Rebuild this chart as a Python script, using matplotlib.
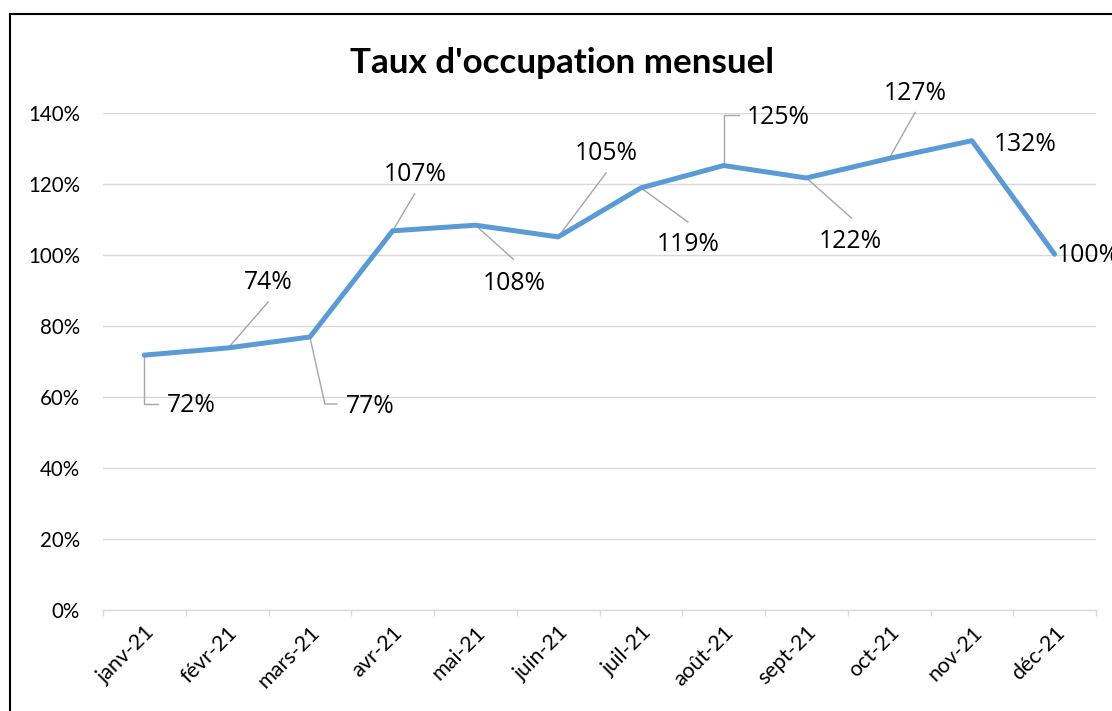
import matplotlib
matplotlib.use("Agg")
import matplotlib.pyplot as plt
import matplotlib.transforms as mtransforms
from matplotlib.lines import Line2D

# Donnees
mois = ["janv-21", "févr-21", "mars-21", "avr-21", "mai-21", "juin-21",
        "juil-21", "août-21", "sept-21", "oct-21", "nov-21", "déc-21"]
taux = [0.718, 0.738, 0.769, 1.068, 1.084, 1.051,
        1.189, 1.252, 1.217, 1.272, 1.322, 1.002]
etiquettes = ["72%", "74%", "77%", "107%", "108%", "105%",
              "119%", "125%", "122%", "127%", "132%", "100%"]

# position des etiquettes (decalage en pixels) et lignes de repere
decal_texte = [(23, -50, "left"), (41, 66, "center"), (36, -69, "left"),
               (23, 56, "center"), (39, -58, "center"), (48, 83, "center"),
               (47, -57, "center"), (23, 48, "left"), (44, -64, "center"),
               (26, 65, "center"), (53, -4, "center"), (2, -1, "left")]
reperes = [[(0, 0), (0, -49), (14, -49)], [(1, 0), (41, 46)],
           [(0, 0), (15, -67), (27, -67)], [(0, 0), (22, 37)],
           [(0, 0), (38, -34)], [(0, 0), (48, 64)], [(0, 0), (47, -34)],
           [(0, 0), (0, 51), (15, 51)], [(0, 0), (45, -40)],
           [(0, 0), (26, 46)], None, None]

W, H = 1112, 711
fig = plt.figure(figsize=(W / 100, H / 100), dpi=100)
ax = fig.add_axes([103 / W, 1 - 610 / H, (1096 - 103) / W, (610 - 113) / H])

x = list(range(len(mois)))
ax.plot(x, taux, color="#5b9bd5", lw=3.6, solid_joinstyle="round",
        solid_capstyle="round", zorder=3)

ax.set_xlim(-0.5, len(mois) - 0.5)
ax.set_ylim(0, 1.4)
ax.set_yticks([i * 0.2 for i in range(8)])
ax.set_yticklabels([f"{i * 20}%" for i in range(8)], fontfamily="Lato", fontsize=14.8)
ax.yaxis.grid(True, color="#d9d9d9", lw=1.0)
ax.set_axisbelow(True)
ax.tick_params(axis="y", length=0, pad=16.5)

ax.set_xticks(x)
ax.set_xticklabels(mois, rotation=45, ha="right", rotation_mode="anchor",
                   fontfamily="Lato", fontsize=15.5)
ax.set_xticks([i - 0.5 for i in range(len(mois) + 1)], minor=True)
ax.tick_params(axis="x", which="major", length=0, pad=9)
ax.tick_params(axis="x", which="minor", length=4.3, width=1.0, color="#d9d9d9")

for s in ["top", "right", "left"]:
    ax.spines[s].set_visible(False)
ax.spines["bottom"].set_color("#d9d9d9")
ax.spines["bottom"].set_linewidth(1.0)

# etiquettes de donnees
for i, v in enumerate(taux):
    dx, dy, ha = decal_texte[i]
    ax.annotate(etiquettes[i], (i, v), xytext=(dx, dy), textcoords="offset pixels",
                ha=ha, va="center", fontfamily="Open Sans", fontsize=17.8,
                annotation_clip=False, zorder=4)
    if reperes[i] is not None:
        tr = mtransforms.Affine2D() + mtransforms.ScaledTranslation(i, v, ax.transData)
        xs = [p[0] for p in reperes[i]]
        ys = [p[1] for p in reperes[i]]
        ax.add_line(Line2D(xs, ys, transform=tr, color="#a6a6a6", lw=1.0,
                           clip_on=False, zorder=2))

fig.text(562 / W, 1 - 73 / H, "Taux d'occupation mensuel", ha="center",
         va="baseline", fontfamily="Lato", fontweight="bold", fontsize=25.2)

# cadre du graphique
fig.add_artist(Line2D([10 / W, 10 / W], [0, 1 - 14 / H], color="black", lw=1.5))
fig.add_artist(Line2D([10 / W, 1], [1 - 14 / H, 1 - 14 / H], color="black", lw=1.5))

fig.savefig("out.png", dpi=100)
